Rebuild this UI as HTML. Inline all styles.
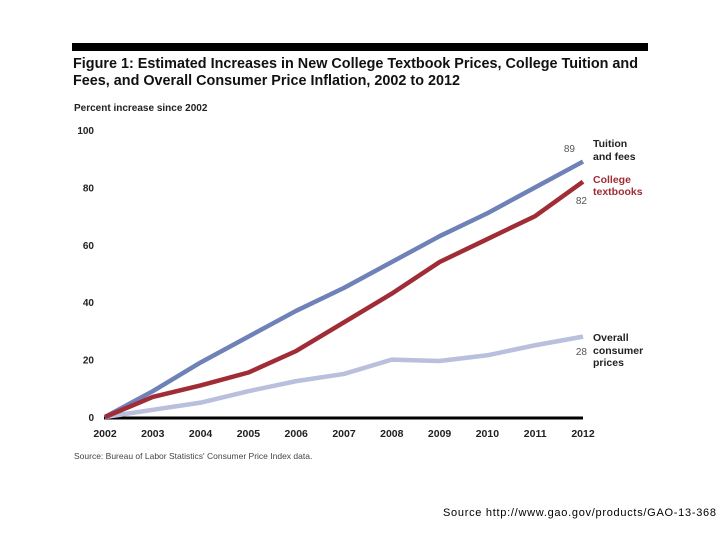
<!DOCTYPE html>
<html><head><meta charset="utf-8"><style>
body{margin:0;background:#fff;}
svg text{font-family:"Liberation Sans",Arial,sans-serif;}
</style></head><body>
<svg width="720" height="540" viewBox="0 0 720 540" xmlns="http://www.w3.org/2000/svg">
<rect x="72" y="43" width="576" height="8" fill="#000"/>
<text x="73" y="68" font-size="14.5" font-weight="bold" fill="#111" textLength="565" lengthAdjust="spacingAndGlyphs">Figure 1: Estimated Increases in New College Textbook Prices, College Tuition and</text>
<text x="73" y="85" font-size="14.5" font-weight="bold" fill="#111" textLength="387" lengthAdjust="spacingAndGlyphs">Fees, and Overall Consumer Price Inflation, 2002 to 2012</text>
<text x="74" y="111" font-size="10" font-weight="bold" fill="#222">Percent increase since 2002</text>
<g id="yticks"></g><g id="xticks"></g>
<line x1="104" y1="418" x2="583" y2="418" stroke="#000" stroke-width="3"/>
<g id="series"></g>
<text x="575" y="152" font-size="10" fill="#555" text-anchor="end">89</text>
<text x="593" y="147" font-size="10.5" font-weight="bold" fill="#222">Tuition</text>
<text x="593" y="160" font-size="10.5" font-weight="bold" fill="#222">and fees</text>
<text x="593" y="183" font-size="10.5" font-weight="bold" fill="#a02c35">College</text>
<text x="593" y="195" font-size="10.5" font-weight="bold" fill="#a02c35">textbooks</text>
<text x="587" y="204" font-size="10" fill="#555" text-anchor="end">82</text>
<text x="593" y="341" font-size="10.5" font-weight="bold" fill="#222">Overall</text>
<text x="593" y="354" font-size="10.5" font-weight="bold" fill="#222">consumer</text>
<text x="593" y="366" font-size="10.5" font-weight="bold" fill="#222">prices</text>
<text x="587" y="355" font-size="10" fill="#555" text-anchor="end">28</text>
<text x="74" y="459" font-size="8.5" fill="#444">Source: Bureau of Labor Statistics' Consumer Price Index data.</text>
<text x="443" y="516" font-size="11" fill="#000" textLength="273" lengthAdjust="spacing">Source http://www.gao.gov/products/GAO-13-368</text>
</svg>
<script>
const years=[2002,2003,2004,2005,2006,2007,2008,2009,2010,2011,2012];
const tuition=[0,9,19,28,37,45,54,63,71,80,89];
const textbooks=[0,7,11,15.5,23,33,43,54,62,70,82];
const cpi=[0,2.5,5,9,12.5,15,20,19.5,21.5,25,28];
const yTicks=[0,20,40,60,80,100];
const NS="http://www.w3.org/2000/svg";
const xs=i=>105+i*(583-105)/(years.length-1);
const ys=v=>417-v*2.87;
const yt=document.getElementById('yticks');
yTicks.forEach(v=>{const t=document.createElementNS(NS,'text');
t.setAttribute('x',94);t.setAttribute('y',ys(v)+4);t.setAttribute('text-anchor','end');
t.setAttribute('font-size','10');t.setAttribute('font-weight','bold');t.setAttribute('fill','#222');
t.textContent=v;


yt.appendChild(t);});
const xt=document.getElementById('xticks');
years.forEach((y,i)=>{const t=document.createElementNS(NS,'text');
t.setAttribute('x',xs(i));t.setAttribute('y',437);t.setAttribute('text-anchor','middle');
t.setAttribute('font-size','10.5');t.setAttribute('font-weight','bold');t.setAttribute('fill','#222');
t.textContent=y;


xt.appendChild(t);});
const sg=document.getElementById('series');
[[cpi,'#b9bfdc','cpi-line'],[tuition,'#6f82b8','tuition-line'],[textbooks,'#a02c35','textbooks-line']].forEach(([d,c,n])=>{
const p=document.createElementNS(NS,'polyline');
p.setAttribute('points',d.map((v,i)=>xs(i)+','+ys(v)).join(' '));
p.setAttribute('fill','none');p.setAttribute('stroke',c);p.setAttribute('stroke-width','4.5');p.setAttribute('stroke-linejoin','round');


sg.appendChild(p);});
</script>
</body></html>
